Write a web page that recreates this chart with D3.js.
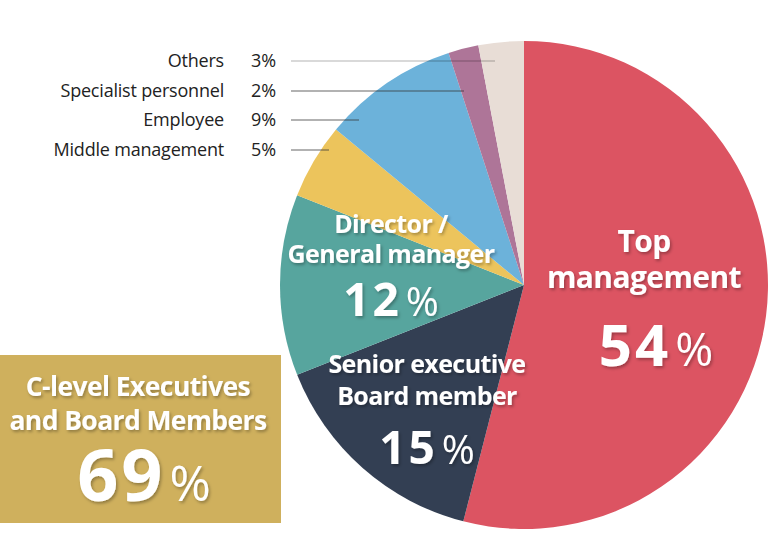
<!DOCTYPE html>
<html><head><meta charset="utf-8">
<script src="https://cdn.jsdelivr.net/npm/d3@7"></script>
<style>body{margin:0;background:#fff}svg{display:block}</style>
</head><body>
<svg id="c" width="782" height="560"></svg>
<script>
const categories = ["Top management","Senior executive Board member","Director / General manager","Middle management","Employee","Specialist personnel","Others"];
const values = [54,15,12,5,9,2,3];
const colors = ["#dc5462","#333f53","#57a59e","#ecc45c","#6cb2da","#ae7598","#e8ddd6"];
const smallLabels = ["Others","Specialist personnel","Employee","Middle management"];
const smallValues = [3,2,9,5];
const summaryLabel = ["C-level Executives","and Board Members"];
const summaryValue = 69;

const svg = d3.select("#c");
const defs = svg.append("defs");
const f = defs.append("filter").attr("id","sh").attr("x","-20%").attr("y","-20%").attr("width","140%").attr("height","140%");
f.append("feDropShadow").attr("dx",1.5).attr("dy",2).attr("stdDeviation",1.8).attr("flood-color","#000").attr("flood-opacity",0.3);

const cx = 524, cy = 285, r = 244;
const pie = d3.pie().sort(null).value(d=>d)(values);
const arc = d3.arc().innerRadius(0).outerRadius(r);
const g = svg.append("g").attr("transform",`translate(${cx},${cy})`);
g.selectAll("path").data(pie).join("path").attr("d",arc).attr("fill",(d,i)=>colors[i]);

const FONT = "Open Sans, Noto Sans, sans-serif";
// leader lines
const lineEnds = [495,464,359,329];
const ys = [61,91,120,150];
smallLabels.forEach((t,i)=>{
  svg.append("line").attr("x1",291).attr("x2",lineEnds[i]).attr("y1",ys[i]).attr("y2",ys[i])
    .attr("stroke", i===0 ? "#000" : "#333").attr("stroke-opacity", i===0?0.3:0.75).attr("stroke-width",1.2);
  svg.append("text").attr("x",224).attr("y",ys[i]+6).attr("text-anchor","end")
    .attr("font-family",FONT).attr("font-size",18).attr("letter-spacing",-0.2).attr("fill","#222").text(t);
  svg.append("text").attr("x",251).attr("y",ys[i]+6)
    .attr("font-family",FONT).attr("font-size",18).attr("fill","#222").text(smallValues[i]+"%");
});

// summary box
svg.append("rect").attr("x",0).attr("y",355).attr("width",281).attr("height",168).attr("fill","#cfb05d");

function bigLabel(lines, cxL, y0, lh, fs, value, vy, vfs, pfs, ox){
  const tg = svg.append("g").attr("filter","url(#sh)").attr("fill","#fff").attr("font-family",FONT);
  lines.forEach((l,i)=>{
    tg.append("text").attr("x",cxL).attr("y",y0+i*lh).attr("text-anchor","middle")
      .attr("font-weight",700).attr("font-size",fs).attr("letter-spacing",-0.6).text(l);
  });
  const t = tg.append("text").attr("x",cxL+(ox||0)).attr("y",vy).attr("text-anchor","middle");
  t.append("tspan").attr("font-weight",700).attr("font-size",vfs).attr("letter-spacing",3).text(value);
  t.append("tspan").attr("font-weight",400).attr("font-size",pfs).attr("dx",4).text("%");
}
bigLabel(["Top","management"], 644, 252, 36, 30, values[0], 366, 58, 46, 12);
bigLabel(["Senior executive","Board member"], 427, 373, 32, 25, values[1], 464, 46, 40, 0);
bigLabel(["Director /","General manager"], 391, 233, 30, 25, values[2], 316, 46, 40, 0);
bigLabel(summaryLabel, 138, 396, 34, 26.5, summaryValue, 501, 72, 50, 6);
</script>
</body></html>
